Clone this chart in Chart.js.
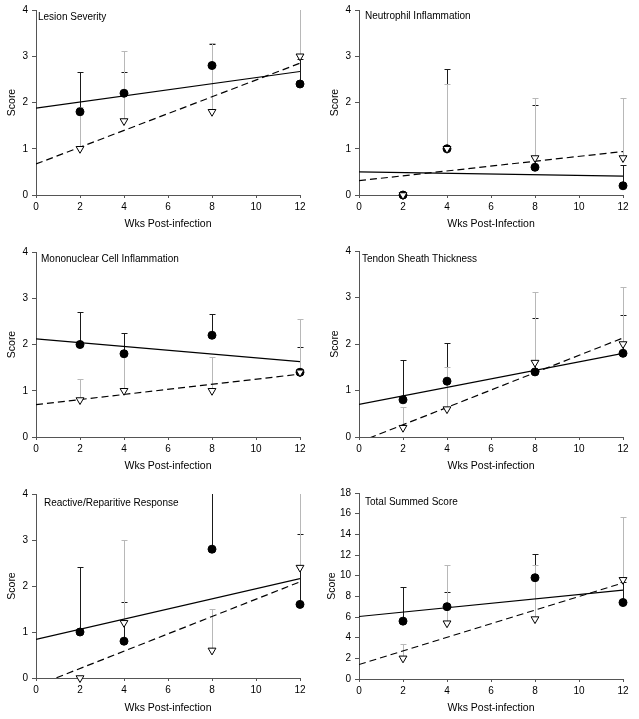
<!DOCTYPE html>
<html>
<head>
<meta charset="utf-8">
<script src="https://cdn.jsdelivr.net/npm/chart.js@4.4.0/dist/chart.umd.min.js"></script>
<style>
  body { margin: 0; background: #fff; width: 639px; height: 719px; overflow: hidden; position: relative; }
  .panel { position: absolute; width: 320px; height: 240px; }
</style>
</head>
<body>
<div class="panel" style="left:0;top:0"><canvas id="c1" width="320" height="240"></canvas></div>
<div class="panel" style="left:320px;top:0"><canvas id="c2" width="320" height="240"></canvas></div>
<div class="panel" style="left:0;top:240px"><canvas id="c3" width="320" height="240"></canvas></div>
<div class="panel" style="left:320px;top:240px"><canvas id="c4" width="320" height="240"></canvas></div>
<div class="panel" style="left:0;top:479px"><canvas id="c5" width="320" height="240"></canvas></div>
<div class="panel" style="left:320px;top:479px"><canvas id="c6" width="320" height="240"></canvas></div>
<script>
const FONT = "'Liberation Sans', Arial, sans-serif";

const weeks = [2, 4, 8, 12];
const fitX = [0, 12];

// Lesion Severity
const lesionCircle = [1.8, 2.2, 2.8, 2.4];
const lesionCircleTop = [2.65, 2.65, 3.26, 2.95];
const lesionTri = [1.0, 1.6, 1.8, 3.0];
const lesionTriTop = [1.9, 3.12, 3.28, 4.3];
const lesionFitSolid = [1.88, 2.67];
const lesionFitDash = [0.67, 2.85];

// Neutrophil Inflammation
const neutroCircle = [0, 1.0, 0.6, 0.2];
const neutroCircleTop = [0, 2.73, 1.95, 0.65];
const neutroTri = [0, 1.0, 0.8, 0.8];
const neutroTriTop = [0, 2.4, 2.1, 2.1];
const neutroFitSolid = [0.5, 0.41];
const neutroFitDash = [0.31, 0.94];

// Mononuclear Cell Inflammation
const monoCircle = [2.0, 1.8, 2.2, 1.4];
const monoCircleTop = [2.7, 2.25, 2.65, 1.95];
const monoTri = [0.8, 1.0, 1.0, 1.4];
const monoTriTop = [1.25, 1.75, 1.72, 2.55];
const monoFitSolid = [2.12, 1.63];
const monoFitDash = [0.7, 1.36];

// Tendon Sheath Thickness
const tendonCircle = [0.8, 1.2, 1.4, 1.8];
const tendonCircleTop = [1.65, 2.03, 2.55, 2.63];
const tendonTri = [0.2, 0.6, 1.6, 2.0];
const tendonTriTop = [0.65, 1.5, 3.12, 3.22];
const tendonFitSolid = [0.7, 1.8];
const tendonFitDash = [-0.11, 2.13];

// Reactive/Reparitive Response
const reactCircle = [1.0, 0.8, 2.8, 1.6];
const reactCircleTop = [2.42, 1.65, 4.3, 3.12];
const reactTri = [0, 1.2, 0.6, 2.4];
const reactTriTop = [0, 3.0, 1.5, 4.3];
const reactFitSolid = [0.84, 2.16];
const reactFitDash = [-0.17, 2.09];

// Total Summed Score
const totalCircle = [5.6, 7.0, 9.8, 7.4];
const totalCircleTop = [8.9, 8.4, 12.05, 9.4];
const totalTri = [2.0, 5.4, 5.8, 9.6];
const totalTriTop = [3.4, 11.0, 11.0, 15.7];
const totalFitSolid = [6.05, 8.6];
const totalFitDash = [1.4, 9.3];

const panels = [
  { id: 'c1', title: 'Lesion Severity', xLabel: 'Wks Post-infection', yMax: 4, yStep: 1,
    circle: lesionCircle, circleTop: lesionCircleTop, tri: lesionTri, triTop: lesionTriTop,
    fitSolid: lesionFitSolid, fitDash: lesionFitDash,
    left: 36, top: 10, bottom: 195, right: 300, tx: 2, ty: 7, scoreX: 12, xTitleY: 224 },
  { id: 'c2', title: 'Neutrophil Inflammation', xLabel: 'Wks Post-Infection', yMax: 4, yStep: 1,
    circle: neutroCircle, circleTop: neutroCircleTop, tri: neutroTri, triTop: neutroTriTop,
    fitSolid: neutroFitSolid, fitDash: neutroFitDash,
    left: 39, top: 10, bottom: 195, right: 303, tx: 6, ty: 6, scoreX: 15, xTitleY: 224 },
  { id: 'c3', title: 'Mononuclear Cell Inflammation', xLabel: 'Wks Post-infection', yMax: 4, yStep: 1,
    circle: monoCircle, circleTop: monoCircleTop, tri: monoTri, triTop: monoTriTop,
    fitSolid: monoFitSolid, fitDash: monoFitDash,
    left: 36, top: 12, bottom: 197, right: 300, tx: 5, ty: 7, scoreX: 12, xTitleY: 226 },
  { id: 'c4', title: 'Tendon Sheath Thickness', xLabel: 'Wks Post-infection', yMax: 4, yStep: 1,
    circle: tendonCircle, circleTop: tendonCircleTop, tri: tendonTri, triTop: tendonTriTop,
    fitSolid: tendonFitSolid, fitDash: tendonFitDash,
    left: 39, top: 11, bottom: 197, right: 303, tx: 3, ty: 8, scoreX: 15, xTitleY: 226 },
  { id: 'c5', title: 'Reactive/Reparitive Response', xLabel: 'Wks Post-infection', yMax: 4, yStep: 1,
    circle: reactCircle, circleTop: reactCircleTop, tri: reactTri, triTop: reactTriTop,
    fitSolid: reactFitSolid, fitDash: reactFitDash,
    left: 36, top: 15, bottom: 199, right: 300, tx: 8, ty: 9, scoreX: 12, xTitleY: 229 },
  { id: 'c6', title: 'Total Summed Score', xLabel: 'Wks Post-infection', yMax: 18, yStep: 2,
    circle: totalCircle, circleTop: totalCircleTop, tri: totalTri, triTop: totalTriTop,
    fitSolid: totalFitSolid, fitDash: totalFitDash,
    left: 39, top: 14, bottom: 200, right: 303, tx: 6, ty: 9, scoreX: 12, xTitleY: 229 }
];

// upward-only error bars; black (filled circles) first, grey (triangles) over them
const errorBars = {
  id: 'errorBars',
  beforeDatasetsDraw(chart) {
    const { ctx, chartArea, scales: { x, y } } = chart;
    ctx.save();
    ctx.beginPath();
    ctx.rect(chartArea.left - 6, chartArea.top, chartArea.width + 12, chartArea.height + 2);
    ctx.clip();
    [1, 0].forEach(di => {
      const ds = chart.data.datasets[di];
      ctx.strokeStyle = ds.errColor;
      ctx.lineWidth = 1;
      ds.data.forEach((pt, i) => {
        const top = ds.errTop[i];
        if (top <= pt.y) return;
        const px = Math.round(x.getPixelForValue(pt.x)) + 0.5;
        const y0 = y.getPixelForValue(pt.y);
        const y1 = Math.round(y.getPixelForValue(top)) + 0.5;
        ctx.beginPath();
        ctx.moveTo(px, y0); ctx.lineTo(px, y1);
        ctx.moveTo(px - 3, y1); ctx.lineTo(px + 3, y1);
        ctx.stroke();
      });
    });
    ctx.restore();
  }
};

const panelTitle = {
  id: 'panelTitle',
  afterDatasetsDraw(chart, args, opts) {
    const { ctx, chartArea } = chart;
    ctx.save();
    ctx.font = '10px ' + FONT;
    ctx.fillStyle = '#000';
    ctx.textBaseline = 'middle';
    ctx.fillText(opts.text, chartArea.left + opts.dx, chartArea.top + opts.dy);
    ctx.restore();
  }
};

function makeChart(p) {
  const pts = (xs, ys) => xs.map((x, i) => ({ x, y: ys[i] }));
  const lh = 10.5 * 1.2;
  new Chart(document.getElementById(p.id), {
    type: 'scatter',
    data: { datasets: [
      { data: pts(weeks, p.tri), errTop: p.triTop, errColor: '#b8b8b8',
        pointStyle: 'triangle', pointRotation: 180, pointRadius: 4.5,
        pointBackgroundColor: '#fff', pointBorderColor: '#000', pointBorderWidth: 1, order: 0, clip: false },
      { data: pts(weeks, p.circle), errTop: p.circleTop, errColor: '#1a1a1a',
        pointStyle: 'circle', pointRadius: 4,
        pointBackgroundColor: '#000', pointBorderColor: '#000', pointBorderWidth: 1, order: 1, clip: false },
      { data: pts(fitX, p.fitSolid), showLine: true, pointRadius: 0,
        borderColor: '#000', borderWidth: 1.2, order: 2, clip: 0 },
      { data: pts(fitX, p.fitDash), showLine: true, pointRadius: 0,
        borderColor: '#000', borderWidth: 1.2, borderDash: [7, 4], order: 3, clip: 0 }
    ]},
    options: {
      responsive: false, animation: false, events: [],
      layout: { padding: { top: p.top, right: 320 - p.right, bottom: 0, left: 0 } },
      plugins: {
        legend: { display: false }, tooltip: { enabled: false },
        panelTitle: { text: p.title, dx: p.tx, dy: p.ty }
      },
      scales: {
        x: {
          type: 'linear', min: 0, max: 12,
          ticks: { stepSize: 2, color: '#000', font: { family: FONT, size: 10 }, padding: 3, maxRotation: 0 },
          grid: { drawOnChartArea: false, tickLength: 3, color: '#555' },
          border: { color: '#555', width: 1 },
          title: { display: true, text: p.xLabel, color: '#000', font: { family: FONT, size: 10.5 },
                   padding: { top: 0, bottom: 240 - p.xTitleY - lh / 2 } },
          afterFit: s => { s.height = 240 - p.bottom; }
        },
        y: {
          type: 'linear', min: 0, max: p.yMax,
          ticks: { stepSize: p.yStep, color: '#000', font: { family: FONT, size: 10 }, padding: 4 },
          grid: { drawOnChartArea: false, tickLength: 4, color: '#555' },
          border: { color: '#555', width: 1 },
          title: { display: true, text: 'Score', color: '#000', font: { family: FONT, size: 10.5 },
                   padding: { top: p.scoreX - lh / 2, bottom: 0 } },
          afterFit: s => { s.width = p.left; }
        }
      }
    },
    plugins: [errorBars, panelTitle]
  });
}

panels.forEach(makeChart);
</script>
</body>
</html>
